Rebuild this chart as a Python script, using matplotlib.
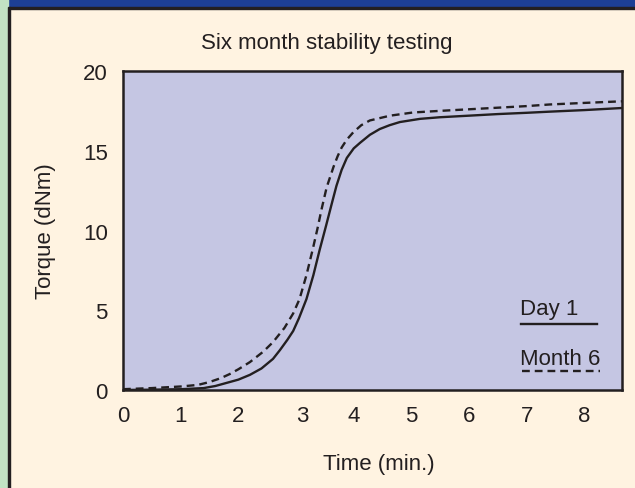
import numpy as np
import matplotlib
matplotlib.use("Agg")
import matplotlib.pyplot as plt
from matplotlib.patches import Rectangle
from matplotlib.lines import Line2D

plt.rcParams["font.family"] = ["Liberation Sans", "DejaVu Sans"]

# readings from the reference (time in min, torque in dNm)
day1_t = [0, 0.5, 1.0, 1.4, 1.6, 1.8, 2.0, 2.2, 2.4, 2.6, 2.72, 2.85, 2.95,
          3.05, 3.18, 3.3, 3.41, 3.52, 3.62, 3.70, 3.79, 3.88, 4.0, 4.11,
          4.28, 4.45, 4.62, 4.8, 5.15, 5.49, 6.0, 6.5, 7.0, 7.39, 8.0, 8.65]
day1_v = [0.0, 0.02, 0.05, 0.12, 0.25, 0.45, 0.65, 0.95, 1.35, 1.95, 2.5,
          3.15, 3.7, 4.5, 5.7, 7.2, 8.8, 10.3, 11.7, 12.8, 13.8, 14.55, 15.15,
          15.5, 16.0, 16.36, 16.6, 16.8, 17.0, 17.1, 17.2, 17.3, 17.38, 17.45,
          17.55, 17.68]
month6_t = [0, 0.5, 1.0, 1.3, 1.5, 1.7, 1.85, 2.0, 2.2, 2.43, 2.6, 2.8, 2.95,
            3.06, 3.18, 3.29, 3.37, 3.44, 3.53, 3.65, 3.72, 3.79, 3.88, 3.99,
            4.13, 4.28, 4.63, 5.03, 5.49, 6.0, 6.5, 7.0, 7.39, 8.0, 8.65]
month6_v = [0.05, 0.12, 0.22, 0.32, 0.5, 0.75, 1.0, 1.3, 1.75, 2.4, 3.0, 3.9,
            4.8, 5.7, 7.2, 8.84, 10.1, 11.3, 12.7, 14.0, 14.65, 15.2, 15.7,
            16.15, 16.6, 16.9, 17.2, 17.4, 17.5, 17.6, 17.7, 17.8, 17.9, 18.0,
            18.1]
xtick_pos = [0, 1, 2, 3.1, 4, 5, 6, 7, 8]
xtick_lab = ["0", "1", "2", "3", "4", "5", "6", "7", "8"]
yticks = [0, 5, 10, 15, 20]

ink = "#231f20"
fs = 16
fig = plt.figure(figsize=(6.35, 4.89), dpi=100, facecolor="#fff3e1")

# frame decorations: top band and left strip
fig.patches.append(Rectangle((0, 1 - 8 / 489), 1, 8 / 489, transform=fig.transFigure,
                             color="#1d3f95", zorder=0))
fig.patches.append(Rectangle((0, 1 - 10 / 489), 1, 2 / 489, transform=fig.transFigure,
                             color=ink, zorder=0))
fig.patches.append(Rectangle((0, 0), 8 / 635, 1, transform=fig.transFigure,
                             color="#c2e2c4", zorder=0))
fig.patches.append(Rectangle((8 / 635, 0), 2 / 635, 1 - 8 / 489, transform=fig.transFigure,
                             color=ink, zorder=0))

ax = fig.add_axes([123 / 635, 1 - 391 / 489, 499 / 635, 319 / 489])
ax.set_facecolor("#c5c6e3")
ax.plot(day1_t, day1_v, color=ink, lw=1.7, solid_joinstyle="round")
ax.plot(month6_t, month6_v, color=ink, lw=1.7, dashes=[3.3, 2.1])
ax.set_xlim(0, 8.65)
ax.set_ylim(0, 20)
ax.set_xticks(xtick_pos, xtick_lab)
ax.set_yticks(yticks)
ax.tick_params(length=0, labelsize=fs, colors=ink)
ax.tick_params(axis="x", pad=11)
ax.tick_params(axis="y", pad=11)
for s in ax.spines.values():
    s.set_color(ink)
    s.set_linewidth(1.8)

ax.set_xlabel("Time (min.)", fontsize=fs, color=ink)
ax.xaxis.set_label_coords(0.513, -0.23)
ax.xaxis.label.set_va("center")
ax.set_ylabel("Torque (dNm)", fontsize=fs, color=ink)
ax.yaxis.set_label_coords(-0.156, 0.5)
ax.yaxis.label.set_va("center")

fig.text(327 / 635, 1 - 44 / 489, "Six month stability testing", fontsize=fs,
         color=ink, ha="center", va="center")

# hand-drawn style key
ax.text(0.795, 0.238, "Day 1", transform=ax.transAxes, fontsize=fs, color=ink,
        ha="left", va="baseline")
ax.add_line(Line2D([0.798, 0.950], [0.207, 0.207], transform=ax.transAxes,
                   color=ink, lw=1.7))
ax.text(0.795, 0.082, "Month 6", transform=ax.transAxes, fontsize=fs, color=ink,
        ha="left", va="baseline")
ax.add_line(Line2D([0.80, 0.955], [0.060, 0.060], transform=ax.transAxes,
                   color=ink, lw=1.7, dashes=[3.3, 2.1]))

fig.savefig("out.png", dpi=100, facecolor=fig.get_facecolor())
plt.close(fig)
